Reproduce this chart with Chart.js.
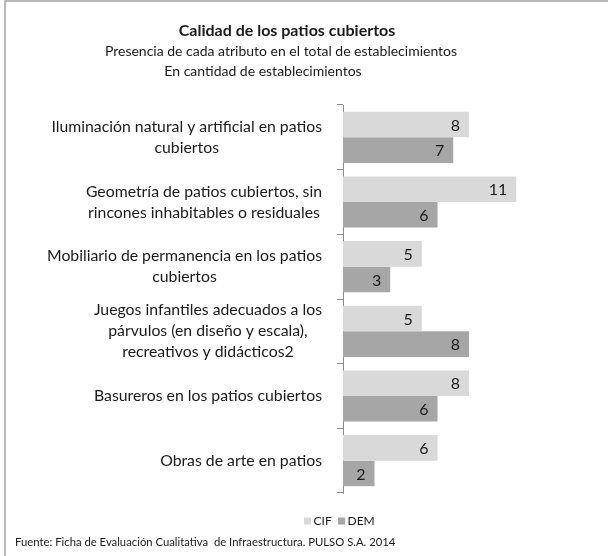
<!DOCTYPE html>
<html><head><meta charset="utf-8">
<script src="https://cdn.jsdelivr.net/npm/chart.js@4/dist/chart.umd.min.js"></script>
<style>html,body{margin:0;padding:0;background:#fff}#wrap{width:608px;height:556px}</style>
</head><body><div id="wrap"><canvas id="c" width="608" height="556"></canvas></div>
<script>
const categories = [
  ["Iluminación natural y artificial en patios", "cubiertos"],
  ["Geometría de patios cubiertos, sin", "rincones inhabitables o residuales"],
  ["Mobiliario de permanencia en los patios", "cubiertos"],
  ["Juegos infantiles adecuados a los", "párvulos (en diseño y escala),", "recreativos y didácticos2"],
  ["Basureros en los patios cubiertos"],
  ["Obras de arte en patios"]
];
const seriesNames = ["CIF", "DEM"];
const cifValues = [8, 11, 5, 5, 8, 6];
const demValues = [7, 6, 3, 8, 6, 2];
const titleText = "Calidad de los patios cubiertos";
const subtitleLines = ["Presencia de cada atributo en el total de establecimientos", "En cantidad de establecimientos"];
const footerText = "Fuente: Ficha de Evaluación Cualitativa  de Infraestructura. PULSO S.A. 2014";

const FONT = "Lato";
const TXT = "#1a1a1a";
const colors = ["#d9d9d9", "#a6a6a6"];

const overlay = {
  id: 'overlay',
  afterDraw(chart) {
    const ctx = chart.ctx;
    ctx.save();
    // frame
    ctx.strokeStyle = '#a3a3a3';
    ctx.lineWidth = 1.5;
    ctx.strokeRect(5, 1, 800, 800);
    ctx.fillStyle = TXT;
    ctx.textBaseline = 'middle';
    ctx.textAlign = 'center';
    ctx.font = `bold 16px ${FONT}`;
    ctx.fillText(titleText, 287, 31);
    ctx.font = `14px ${FONT}`;
    ctx.fillText(subtitleLines[0], 281, 51);
    ctx.fillText(subtitleLines[1], 263, 71);
    // category labels
    const y = chart.scales.y;
    ctx.font = `15.8px ${FONT}`;
    const rightEdge = 322;
    const lh = 21;
    categories.forEach((lines, i) => {
      const cy = y.getPixelForValue(i);
      const maxW = Math.max(...lines.map(l => ctx.measureText(l).width));
      const cx = rightEdge - maxW / 2;
      const y0 = cy - (lines.length - 1) * lh / 2;
      lines.forEach((l, k) => ctx.fillText(l, cx, y0 + k * lh));
    });
    // data labels
    ctx.textAlign = 'right';
    ctx.font = `16px ${FONT}`;
    chart.data.datasets.forEach((ds, di) => {
      const meta = chart.getDatasetMeta(di);
      meta.data.forEach((el, i) => {
        ctx.fillText(String(ds.data[i]), el.x - 9, el.y + 1);
      });
    });
    // legend
    ctx.font = `12px ${FONT}`;
    ctx.textAlign = 'left';
    const legY = 521;
    const legX = [304, 338];
    chart.data.datasets.forEach((ds, di) => {
      ctx.fillStyle = ds.backgroundColor;
      ctx.fillRect(legX[di], legY - 3.5, 7, 7);
      ctx.fillStyle = TXT;
      ctx.fillText(ds.label, legX[di] + 9.5, legY);
    });
    // footer
    ctx.font = `11.3px ${FONT}`;
    ctx.fillText(footerText, 15, 542);
    ctx.restore();
  }
};

new Chart(document.getElementById('c'), {
  type: 'bar',
  data: {
    labels: categories,
    datasets: [
      { label: seriesNames[0], data: cifValues, backgroundColor: colors[0], borderWidth: 0 },
      { label: seriesNames[1], data: demValues, backgroundColor: colors[1], borderWidth: 0 }
    ]
  },
  options: {
    indexAxis: 'y',
    responsive: false,
    animation: false,
    events: [],
    layout: { padding: { left: 0, top: 105, right: 76, bottom: 63 } },
    datasets: { bar: { categoryPercentage: 0.79, barPercentage: 1.0 } },
    plugins: { legend: { display: false }, title: { display: false }, tooltip: { enabled: false } },
    scales: {
      x: { display: false, min: 0, max: 12 },
      y: {
        offset: true,
        ticks: { display: false },
        grid: { drawOnChartArea: false, drawTicks: true, tickLength: 6, offset: true, color: '#8c8c8c', lineWidth: 1 },
        border: { display: true, color: '#8c8c8c', width: 1 },
        afterFit(s) { s.width = 343; }
      }
    }
  },
  plugins: [overlay]
});
</script>
</body></html>
